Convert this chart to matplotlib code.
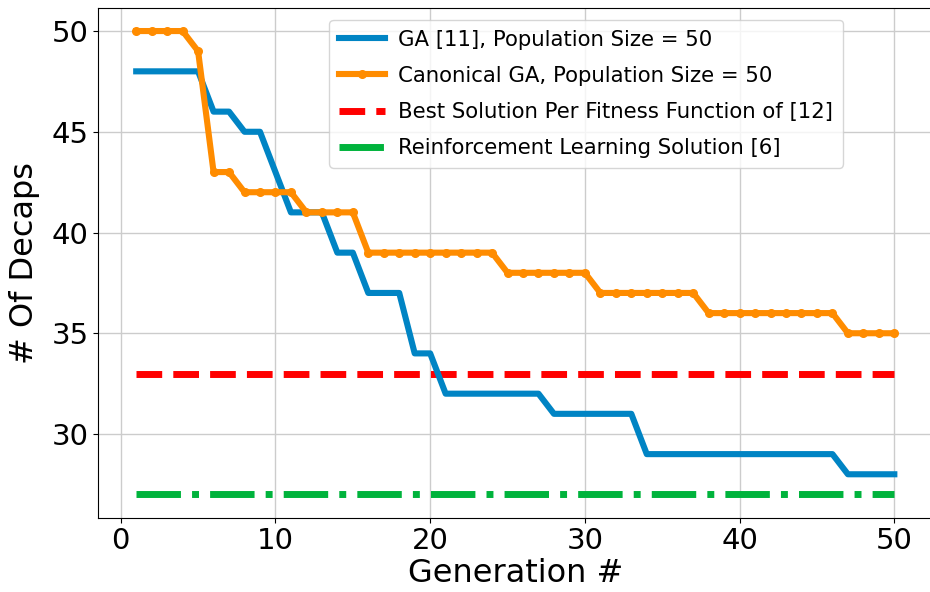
import matplotlib
matplotlib.use("Agg")
import matplotlib.pyplot as plt

generations = list(range(1, 51))
ga_ref11 = [48, 48, 48, 48, 48, 46, 46, 45, 45, 43,
            41, 41, 41, 39, 39, 37, 37, 37, 34, 34,
            32, 32, 32, 32, 32, 32, 32, 31, 31, 31,
            31, 31, 31, 29, 29, 29, 29, 29, 29, 29,
            29, 29, 29, 29, 29, 29, 28, 28, 28, 28]
canonical_ga = [50, 50, 50, 50, 49, 43, 43, 42, 42, 42,
                42, 41, 41, 41, 41, 39, 39, 39, 39, 39,
                39, 39, 39, 39, 38, 38, 38, 38, 38, 38,
                37, 37, 37, 37, 37, 37, 37, 36, 36, 36,
                36, 36, 36, 36, 36, 36, 35, 35, 35, 35]
best_fitness_ref12 = 33
rl_solution_ref6 = 27

labels = ["GA [11], Population Size = 50",
          "Canonical GA, Population Size = 50",
          "Best Solution Per Fitness Function of [12]",
          "Reinforcement Learning Solution [6]"]

fig = plt.figure(figsize=(9.30, 5.92), dpi=100)
ax = fig.add_axes([0.1057, 0.1257, 0.8967, 0.861])

ax.plot(generations, ga_ref11, color="#0084C4", lw=4.4, label=labels[0], zorder=3)
ax.plot(generations, canonical_ga, color="#FF8C00", lw=4.4, marker="o", ms=5.5,
        label=labels[1], zorder=4)
ax.plot(generations, [best_fitness_ref12] * len(generations), color="#FF0000",
        lw=5, ls="--", label=labels[2], zorder=2)
ax.plot(generations, [rl_solution_ref6] * len(generations), color="#00B33C",
        lw=5, ls="-.", label=labels[3], zorder=2)

ax.grid(True, color="#cccccc", lw=1)
ax.set_axisbelow(True)
ax.set_xticks([0, 10, 20, 30, 40, 50])
ax.set_yticks([30, 35, 40, 45, 50])
ax.tick_params(labelsize=21)
ax.set_xlabel("Generation #", fontsize=23, labelpad=2)
ax.set_ylabel("# Of Decaps", fontsize=23, labelpad=8)

ax.legend(loc="upper right", fontsize=15.3, bbox_to_anchor=(0.893, 0.976),
          borderaxespad=0, labelspacing=0.76, handlelength=2.15,
          handletextpad=0.65, borderpad=0.45)

fig.savefig("out.png", dpi=100)
